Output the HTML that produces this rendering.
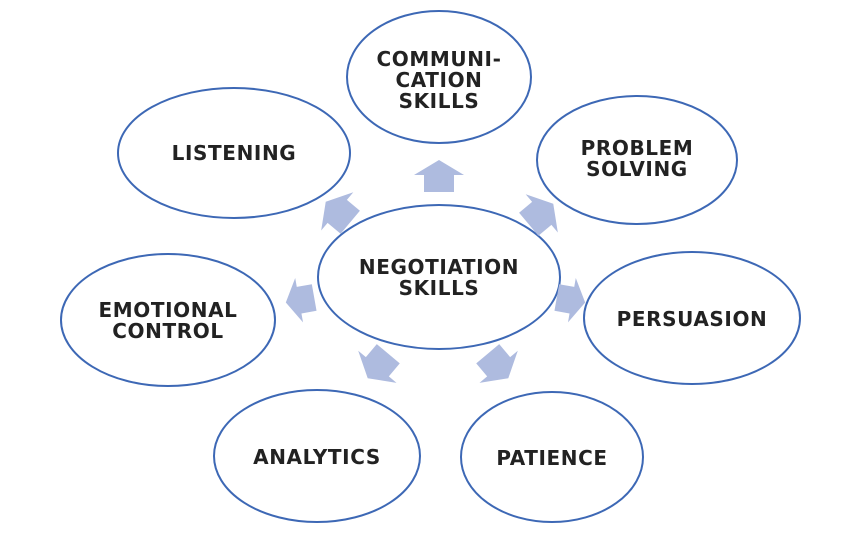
<!DOCTYPE html>
<html><head><style>
html,body{margin:0;padding:0;background:#fff;}
svg{display:block;}
text{font-family:"DejaVu Sans","Liberation Sans",sans-serif;font-weight:bold;font-size:20px;letter-spacing:0.6px;fill:#222;text-anchor:middle;}
</style></head><body>
<svg width="841" height="534" viewBox="0 0 841 534">
<defs>
<polygon id="ar" points="0,-16 25,-1 15,-1 15,16 -15,16 -15,-1 -25,-1" fill="#aebbdf"/>
</defs>
<g fill="#fff" stroke="#3d68b5" stroke-width="2">
<ellipse cx="439" cy="77" rx="92" ry="66"/>
<ellipse cx="234" cy="153" rx="116" ry="65"/>
<ellipse cx="637" cy="160" rx="100" ry="64"/>
<ellipse cx="692" cy="318" rx="108" ry="66"/>
<ellipse cx="168" cy="320" rx="107" ry="66"/>
<ellipse cx="317" cy="456" rx="103" ry="66"/>
<ellipse cx="552" cy="457" rx="91" ry="65"/>
<ellipse cx="439" cy="277" rx="121" ry="72"/>
</g>
<use href="#ar" transform="translate(439,176)"/>
<use href="#ar" transform="translate(338,212) rotate(-50)"/>
<use href="#ar" transform="translate(541,214) rotate(50)"/>
<use href="#ar" transform="translate(571,300) rotate(100) scale(0.9)"/>
<use href="#ar" transform="translate(300,300) rotate(-100) scale(0.9)"/>
<use href="#ar" transform="translate(378,366) rotate(-140)"/>
<use href="#ar" transform="translate(498,366) rotate(140)"/>
<text x="439" y="66">COMMUNI-</text>
<text x="439" y="87">CATION</text>
<text x="439" y="108">SKILLS</text>
<text x="234" y="160">LISTENING</text>
<text x="637" y="155">PROBLEM</text>
<text x="637" y="176">SOLVING</text>
<text x="692" y="326">PERSUASION</text>
<text x="168" y="317">EMOTIONAL</text>
<text x="168" y="338">CONTROL</text>
<text x="317" y="464">ANALYTICS</text>
<text x="552" y="465">PATIENCE</text>
<text x="439" y="274">NEGOTIATION</text>
<text x="439" y="295">SKILLS</text>
</svg>
</body></html>
